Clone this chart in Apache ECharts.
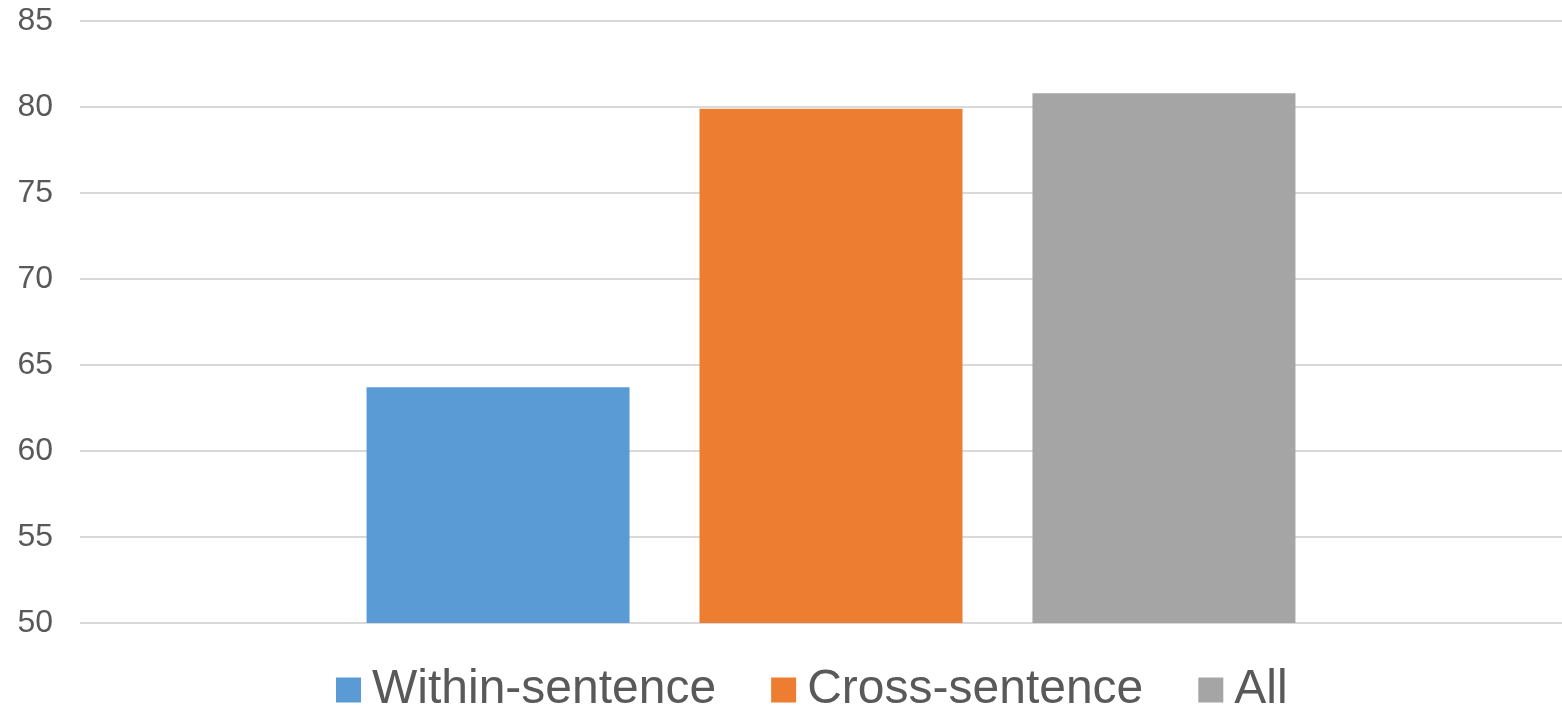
<!DOCTYPE html>
<html>
<head>
<meta charset="utf-8">
<script src="https://cdn.jsdelivr.net/npm/echarts@6/dist/echarts.min.js"></script>
<style>
  html, body { margin: 0; padding: 0; background: #fff; }
  #chart { width: 1562px; height: 708px; }
</style>
</head>
<body>
<div id="chart"></div>
<script>
// data
var categories = [''];
var seriesNames = ['Within-sentence', 'Cross-sentence', 'All'];
var withinSentence = [63.7];
var crossSentence = [79.9];
var allValues = [80.8];
var yTicks = { min: 50, max: 85, interval: 5 };

var colors = ['#5B9BD5', '#ED7D31', '#A5A5A5'];
var font = 'Arial, "Liberation Sans", sans-serif';

var chart = echarts.init(document.getElementById('chart'));

function barSeries(name, data, color) {
  return {
    name: name,
    type: 'bar',
    data: data,
    barWidth: 263,
    barGap: '26.6%',
    itemStyle: { color: color },
    animation: false
  };
}

chart.setOption({
  // grid runs a bit past the right edge so the bar group sits where it does in the original
  grid: { left: 80, width: 1502, top: 21, height: 602, containLabel: false, outerBoundsMode: 'none' },
  legend: {
    top: 660,
    left: 331,
    itemWidth: 25,
    itemHeight: 25,
    itemGap: 55,
    icon: 'rect',
    textStyle: {
      fontFamily: font,
      fontSize: 48,
      lineHeight: 50,
      color: '#595959',
      padding: [0, 0, 0, 6]
    },
    data: seriesNames
  },
  xAxis: {
    type: 'category',
    data: categories,
    axisLine: { show: false },
    axisTick: { show: false },
    axisLabel: { show: false }
  },
  yAxis: {
    type: 'value',
    min: yTicks.min,
    max: yTicks.max,
    interval: yTicks.interval,
    axisLine: { show: false },
    axisTick: { show: false },
    axisLabel: {
      fontFamily: font,
      fontSize: 32,
      color: '#595959',
      margin: 27
    },
    splitLine: { lineStyle: { color: '#D9D9D9', width: 2 } }
  },
  series: [
    barSeries(seriesNames[0], withinSentence, colors[0]),
    barSeries(seriesNames[1], crossSentence, colors[1]),
    barSeries(seriesNames[2], allValues, colors[2])
  ]
});
</script>
</body>
</html>
